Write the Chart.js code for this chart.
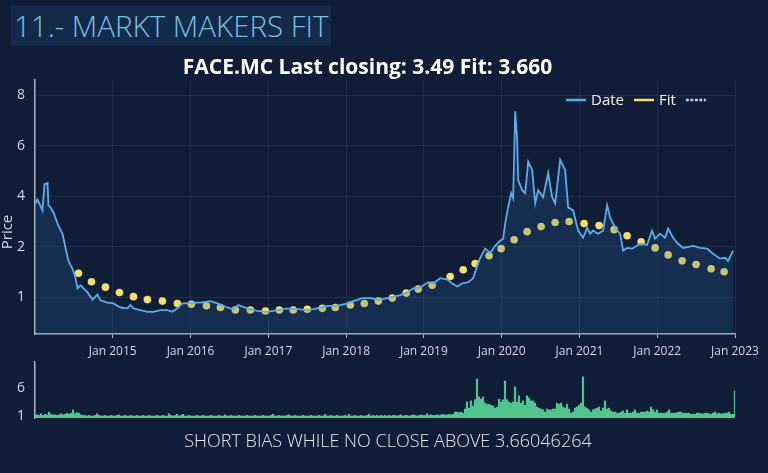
<!DOCTYPE html>
<html>
<head>
<meta charset="utf-8">
<script src="https://cdn.jsdelivr.net/npm/chart.js@4.4.0/dist/chart.umd.min.js"></script>
<style>
  html, body { margin: 0; padding: 0; }
  body { width: 768px; height: 473px; overflow: hidden; background: #0f1e36; position: relative; font-family: 'Open Sans', sans-serif; }
  #pageTitle { position: absolute; left: 11px; top: 6px; width: 317px; height: 40px; padding-left: 3px;
    background: #132a4b; color: #79bfe0; font: 300 29.5px 'Open Sans', sans-serif; line-height: 40px; white-space: nowrap; }
  #mainWrap { position: absolute; left: 0; top: 0; width: 768px; height: 370px; }
  #volWrap { position: absolute; left: 0; top: 350px; width: 768px; height: 80px; }
  #bias { position: absolute; left: 8px; top: 428px; width: 760px; text-align: center; color: #e4e9f0;
    font: 300 18px 'Open Sans', sans-serif; white-space: nowrap; }
</style>
</head>
<body>
<div id="pageTitle">11.- MARKT MAKERS FIT</div>
<div id="mainWrap"><canvas id="main"></canvas></div>
<div id="volWrap"><canvas id="vol"></canvas></div>
<div id="bias">SHORT BIAS WHILE NO CLOSE ABOVE 3.66046264</div>
<script>
// ---------- data ----------
const CHART_TITLE = 'FACE.MC Last closing: 3.49 Fit: 3.660';
const PRICE_TICKS = [1, 2, 4, 6, 8];
const X_TICK_YEARS = [2015, 2016, 2017, 2018, 2019, 2020, 2021, 2022, 2023];
const VOL_TICKS = [1, 6];

const PRICE_DATES = [
  2014.006, 2014.032, 2014.096, 2014.122, 2014.161, 2014.173, 2014.199, 2014.238, 2014.289, 2014.353,
  2014.392, 2014.430, 2014.482, 2014.520, 2014.546, 2014.585, 2014.675, 2014.739, 2014.803, 2014.842,
  2014.932, 2015.009, 2015.099, 2015.189, 2015.227, 2015.266, 2015.356, 2015.445, 2015.523, 2015.613,
  2015.702, 2015.767, 2015.831, 2015.895, 2015.959, 2016.036, 2016.126, 2016.255, 2016.345, 2016.473,
  2016.550, 2016.615, 2016.730, 2016.859, 2016.987, 2017.116, 2017.244, 2017.373, 2017.501, 2017.578,
  2017.668, 2017.758, 2017.886, 2018.015, 2018.092, 2018.208, 2018.310, 2018.439, 2018.567, 2018.696,
  2018.786, 2018.863, 2018.953, 2019.056, 2019.120, 2019.210, 2019.300, 2019.364, 2019.428, 2019.493,
  2019.570, 2019.634, 2019.686, 2019.724, 2019.789, 2019.853, 2019.917, 2019.981, 2020.020, 2020.045,
  2020.084, 2020.122, 2020.148, 2020.174, 2020.199, 2020.212, 2020.264, 2020.302, 2020.341, 2020.392,
  2020.431, 2020.469, 2020.533, 2020.598, 2020.649, 2020.688, 2020.752, 2020.816, 2020.855, 2020.919,
  2020.983, 2021.047, 2021.099, 2021.137, 2021.176, 2021.240, 2021.304, 2021.356, 2021.394, 2021.433,
  2021.484, 2021.523, 2021.561, 2021.613, 2021.677, 2021.780, 2021.870, 2021.934, 2021.973, 2022.037,
  2022.101, 2022.140, 2022.204, 2022.255, 2022.332, 2022.461, 2022.551, 2022.641, 2022.718, 2022.808,
  2022.872, 2022.911, 2022.975
];
const PRICE_VALUES = [
  3.72, 3.88, 3.44, 4.48, 4.52, 3.64, 3.56, 3.36, 2.92, 2.52,
  1.97, 1.65, 1.48, 1.31, 1.13, 1.18, 1.07, 0.97, 1.04, 0.96,
  0.93, 0.92, 0.87, 0.86, 0.90, 0.86, 0.84, 0.82, 0.82, 0.84,
  0.84, 0.82, 0.86, 0.92, 0.92, 0.93, 0.93, 0.95, 0.92, 0.87,
  0.85, 0.90, 0.86, 0.83, 0.82, 0.84, 0.86, 0.85, 0.84, 0.85,
  0.87, 0.89, 0.89, 0.92, 0.95, 0.99, 0.99, 0.97, 1.00, 1.03,
  1.07, 1.13, 1.15, 1.23, 1.21, 1.30, 1.28, 1.21, 1.16, 1.21,
  1.23, 1.30, 1.55, 1.72, 1.95, 1.84, 2.04, 2.24, 2.32, 2.92,
  3.56, 4.12, 3.92, 7.36, 6.24, 4.64, 4.24, 4.12, 5.36, 5.04,
  3.72, 4.24, 3.96, 4.92, 3.96, 3.72, 5.44, 5.04, 3.56, 3.44,
  2.64, 2.36, 2.76, 2.52, 2.64, 2.52, 2.64, 3.64, 3.16, 2.92,
  2.64, 2.52, 1.90, 1.97, 1.95, 2.12, 2.08, 2.64, 2.32, 2.52,
  2.36, 2.72, 2.36, 2.16, 1.97, 2.04, 1.97, 1.95, 1.82, 1.70,
  1.72, 1.65, 1.90
];

const FIT_DATES = [
  2014.559, 2014.726, 2014.906, 2015.086, 2015.266, 2015.445, 2015.638, 2015.831, 2016.011, 2016.204,
  2016.384, 2016.576, 2016.769, 2016.962, 2017.142, 2017.321, 2017.501, 2017.694, 2017.861, 2018.054,
  2018.234, 2018.414, 2018.593, 2018.773, 2018.927, 2019.107, 2019.338, 2019.505, 2019.659, 2019.839,
  2019.993, 2020.160, 2020.327, 2020.507, 2020.687, 2020.867, 2021.060, 2021.253, 2021.446, 2021.613,
  2021.793, 2021.973, 2022.140, 2022.320, 2022.500, 2022.693, 2022.860
];
const FIT_VALUES = [
  1.39, 1.24, 1.15, 1.07, 1.01, 0.97, 0.95, 0.92, 0.91, 0.89,
  0.87, 0.84, 0.84, 0.83, 0.84, 0.84, 0.85, 0.86, 0.87, 0.90,
  0.92, 0.95, 0.99, 1.06, 1.12, 1.18, 1.33, 1.46, 1.59, 1.77,
  1.95, 2.28, 2.60, 2.80, 2.96, 3.00, 2.92, 2.84, 2.68, 2.44,
  2.20, 1.97, 1.79, 1.65, 1.57, 1.48, 1.42
];

// volume bars, evenly spaced from the start of 2014 to the start of 2023
const VOL_START = 2014;
const VOL_END = 2023;
const VOLUME = [
  1.2,1.2,1.1,1.4,1.1,1.3,1.2,1.7,1.3,1.2,1.2,1.1,1.2,1.4,1.2,1.3,1.5,1.3,1.5,2.1,1.4,1.6,1.5,1.2,1.1,
  1.1,1.0,1.1,1.0,1.0,1.1,1.4,1.1,1.0,1.0,1.1,1.0,1.0,1.1,1.0,1.0,1.1,1.2,1.0,1.0,1.1,1.0,1.0,1.1,1.0,
  1.0,1.1,1.0,1.0,1.1,1.0,1.0,1.1,1.0,1.0,1.0,1.1,1.0,1.0,1.1,1.0,1.0,1.4,1.1,1.0,1.1,1.3,1.0,1.1,1.3,
  1.0,1.0,1.1,1.0,1.0,1.0,1.1,1.0,1.0,1.1,1.0,1.0,1.0,1.1,1.0,1.0,1.0,1.1,1.0,1.0,1.2,1.0,1.0,1.1,1.0,
  1.0,1.0,1.1,1.0,1.0,1.0,1.1,1.0,1.0,1.0,1.1,1.0,1.0,1.0,1.1,1.0,1.0,1.0,1.1,1.3,1.0,1.0,1.1,1.0,1.0,
  1.0,1.1,1.2,1.0,1.0,1.1,1.0,1.0,1.0,1.1,1.0,1.0,1.0,1.1,1.0,1.0,1.0,1.1,1.0,1.0,1.3,1.0,1.0,1.1,1.0,
  1.0,1.1,1.0,1.0,1.0,1.1,1.0,1.3,1.0,1.0,1.1,1.0,1.0,1.1,1.0,1.0,1.1,1.3,1.0,1.1,1.0,1.1,1.0,1.1,1.0,
  1.1,1.0,1.1,1.0,1.1,1.1,1.0,1.1,1.2,1.0,1.1,1.1,1.0,1.1,1.2,1.1,1.0,1.1,1.2,1.1,1.1,1.4,1.1,1.2,1.1,
  1.1,1.2,1.1,1.2,1.3,1.2,1.2,1.3,1.2,1.3,1.7,1.7,1.6,1.7,1.5,
  2.25,3.5,2.4,3.7,2.8,3.9,7.6,4.4,4.0,4.4,
  3.3,3.1,3.1,2.9,2.8,2.4,2.6,4.0,3.5,3.9,
  7.25,3.9,3.5,3.3,3.5,6.2,3.5,4.6,3.3,3.7,
  2.9,4.6,4.2,3.7,3.7,3.3,2.6,2.4,2.25,2.1,
  1.7,2.25,2.1,2.1,2.25,2.25,3.3,3.1,3.3,2.6,
  2.4,3.1,2.25,1.5,1.7,2.4,2.6,2.9,3.3,8.0,
  2.6,2.4,2.1,1.7,2.1,2.25,2.4,2.6,1.9,2.4,
  3.7,2.25,2.4,1.9,1.7,1.7,1.5,1.5,1.7,1.9,
  1.5,2.1,1.5,1.5,1.7,2.1,1.5,1.5,1.7,1.7,
  1.7,1.9,1.7,2.6,2.1,1.7,2.1,1.5,1.5,1.5,
  1.5,1.7,2.1,1.5,1.5,1.5,1.6,1.7,1.7,1.5,
  1.5,1.5,1.5,1.3,1.3,1.3,1.5,1.5,1.4,1.4,
  1.5,1.5,1.4,1.3,1.5,1.7,1.4,1.5,1.4,1.4,
  1.5,1.5,1.7,1.3,1.3,5.5
];

// ---------- styling ----------
const FONT = "'Open Sans', sans-serif";
const TICK_COLOR = '#d3d9e2';
const AXIS_COLOR = '#aeb7c4';
const GRID_COLOR = 'rgba(255,255,255,0.07)';
const LINE_COLOR = '#5badea';
const FIT_COLOR = '#f4df6a';
const VOL_COLOR = '#52c48e';

// Price axis: logarithmic below 2, linear above 2 (as in the reference axis)
const LOG2 = Math.log10(2);
const LIN_SLOPE = 0.1506;
function warp(v) { return v >= 2 ? LOG2 + (v - 2) * LIN_SLOPE : Math.log10(Math.max(v, 1e-6)); }
function unwarp(w) { return w >= LOG2 ? 2 + (w - LOG2) / LIN_SLOPE : Math.pow(10, w); }

class PriceScale extends Chart.LinearScale {
  static id = 'price';
  static defaults = {};
  buildTicks() { return PRICE_TICKS.map(v => ({ value: v })); }
  configure() {
    super.configure();
    this._wMin = warp(this.min);
    this._wMax = warp(this.max);
  }
  getPixelForValue(v) {
    if (v === null || v === undefined || isNaN(v)) return NaN;
    return this.getPixelForDecimal((warp(v) - this._wMin) / (this._wMax - this._wMin));
  }
  getValueForPixel(p) {
    return unwarp(this._wMin + this.getDecimalForPixel(p) * (this._wMax - this._wMin));
  }
}
Chart.register(PriceScale);

const insideLegend = {
  id: 'insideLegend',
  afterDraw(chart) {
    const ctx = chart.ctx;
    ctx.save();
    // legend inside the plot, top right
    let x = 566; const y = 100;
    ctx.font = "15px " + FONT;
    ctx.textBaseline = 'middle';
    ctx.textAlign = 'left';
    chart.data.datasets.forEach(ds => {
      ctx.save();
      ctx.strokeStyle = ds.borderColor;
      ctx.lineWidth = 2.5;
      ctx.setLineDash(ds.legendDash || []);
      ctx.beginPath(); ctx.moveTo(x, y); ctx.lineTo(x + 20, y); ctx.stroke();
      ctx.restore();
      x += 25;
      if (ds.label) {
        ctx.fillStyle = '#f2f4f8';
        ctx.fillText(ds.label, x, y + 1);
        x += ctx.measureText(ds.label).width + 10;
      }
    });
    // y axis title
    ctx.translate(8, 232);
    ctx.rotate(-Math.PI / 2);
    ctx.textAlign = 'center';
    ctx.fillStyle = TICK_COLOR;
    ctx.font = "15px " + FONT;
    ctx.fillText('Price', 0, 0);
    ctx.restore();
  }
};

const priceData = PRICE_DATES.map((d, i) => ({ x: d, y: PRICE_VALUES[i] }));
const fitData = FIT_DATES.map((d, i) => ({ x: d, y: FIT_VALUES[i] }));

new Chart(document.getElementById('main'), {
  type: 'line',
  data: {
    datasets: [
      { label: 'Date', data: priceData, borderColor: LINE_COLOR, borderWidth: 1.8, pointRadius: 0,
        fill: 'start', backgroundColor: 'rgba(45,100,165,0.22)', tension: 0 },
      { label: 'Fit', data: fitData, borderColor: FIT_COLOR, backgroundColor: FIT_COLOR, showLine: false,
        pointRadius: 3.8, pointBorderWidth: 0, pointBackgroundColor: FIT_COLOR },
      { label: '', data: [], borderColor: '#c8cdd5', legendDash: [3, 1.5] }
    ]
  },
  options: {
    responsive: true, maintainAspectRatio: false, animation: false,
    layout: { padding: { left: 0, right: 33, top: 0, bottom: 0 } },
    plugins: {
      legend: { display: false },
      tooltip: { enabled: false },
      title: { display: true, text: CHART_TITLE, color: '#ffffff',
        font: { family: FONT, size: 21, weight: '700' }, padding: { top: 55, bottom: 0 } }
    },
    scales: {
      x: {
        type: 'linear', min: 2014, max: 2023, offset: false,
        afterBuildTicks: s => { s.ticks = X_TICK_YEARS.map(v => ({ value: v })); },
        afterFit: s => { s.height = 36; },
        ticks: { color: TICK_COLOR, font: { family: FONT, size: 12 }, padding: 6, maxRotation: 0,
          callback: v => 'Jan ' + v },
        grid: { color: GRID_COLOR, tickColor: AXIS_COLOR, tickLength: 4 },
        border: { color: AXIS_COLOR, width: 1.5 }
      },
      y: {
        type: 'price', min: 0.605, max: 8.59,
        afterFit: s => { s.width = 35; },
        ticks: { color: TICK_COLOR, font: { family: FONT, size: 14 }, padding: 0, callback: v => String(v) },
        grid: { color: GRID_COLOR, tickColor: 'rgba(0,0,0,0)', tickLength: 10 },
        border: { color: AXIS_COLOR, width: 1.5 }
      }
    }
  },
  plugins: [insideLegend]
});

const volStep = (VOL_END - VOL_START) / (VOLUME.length - 1);
const volData = VOLUME.map((v, i) => ({ x: VOL_START + i * volStep, y: v }));

new Chart(document.getElementById('vol'), {
  type: 'bar',
  data: { datasets: [{ label: 'Volume', data: volData, backgroundColor: VOL_COLOR, barThickness: 1.5, borderWidth: 0 }] },
  options: {
    responsive: true, maintainAspectRatio: false, animation: false,
    layout: { padding: { left: 0, right: 33, top: 12, bottom: 12 } },
    plugins: { legend: { display: false }, tooltip: { enabled: false } },
    scales: {
      x: { type: 'linear', min: VOL_START, max: VOL_END, offset: false, display: false },
      y: {
        min: 0.643, max: 10.64,
        afterBuildTicks: s => { s.ticks = VOL_TICKS.map(v => ({ value: v })); },
        afterFit: s => { s.width = 35; },
        ticks: { color: TICK_COLOR, font: { family: FONT, size: 14 }, padding: 0, callback: v => String(v) },
        grid: { drawOnChartArea: false, tickColor: 'rgba(0,0,0,0)', tickLength: 10 },
        border: { color: AXIS_COLOR, width: 1.5 }
      }
    }
  }
});
</script>
</body>
</html>
